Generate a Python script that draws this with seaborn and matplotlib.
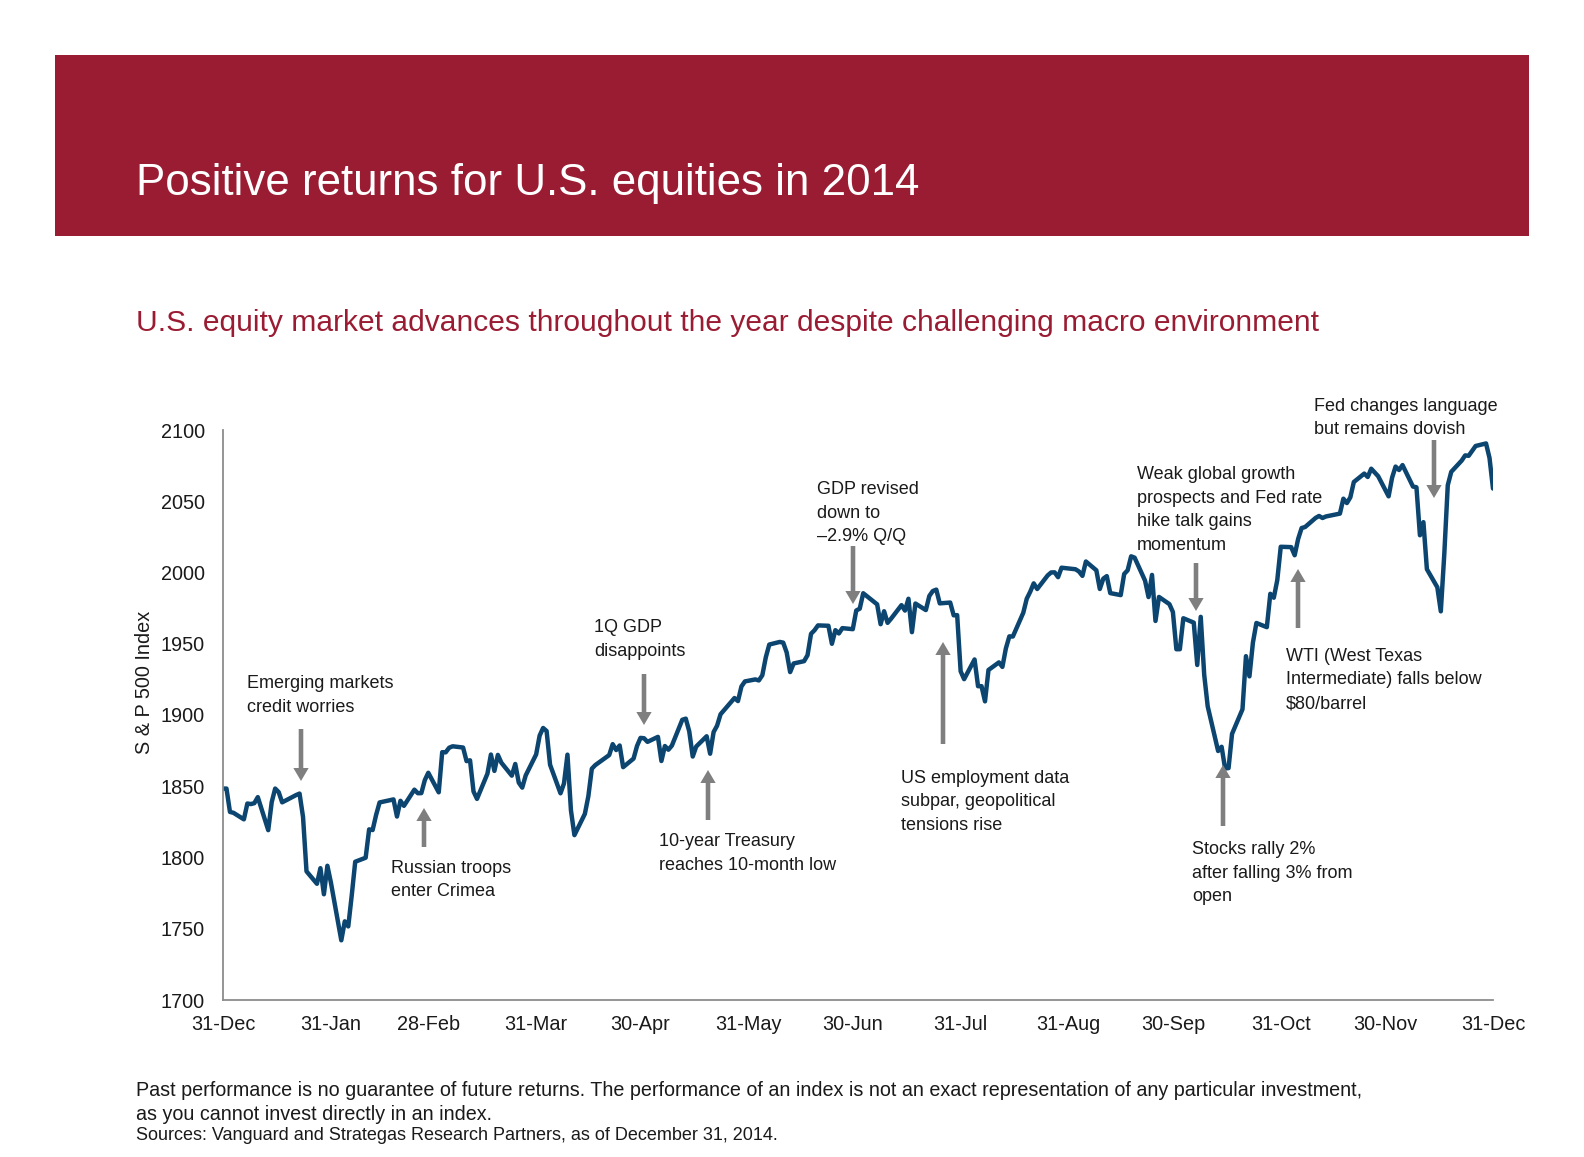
import matplotlib
matplotlib.use("Agg")
import matplotlib.pyplot as plt
from matplotlib.patches import Rectangle, FancyArrowPatch, ArrowStyle
import seaborn as sns
import pandas as pd

# ---------------- data: S&P 500 daily closes, 2014 ----------------
dec13_days = [31]
dec13_close = [1848.36]
jan_days = [1, 2, 3, 6, 7, 8, 9, 10, 13, 14, 15, 16, 17, 21, 22, 23, 24, 27, 28, 29, 30, 31]
jan_close = [1848.36, 1831.98, 1831.37, 1826.77, 1837.88, 1837.49, 1838.13, 1842.37, 1819.20, 1838.88, 1848.38,
             1845.89, 1838.70, 1843.80, 1844.86, 1828.46, 1790.29, 1781.56, 1792.50, 1774.20, 1794.19, 1782.59]
feb_days = [3, 4, 5, 6, 7, 10, 11, 12, 13, 14, 18, 19, 20, 21, 24, 25, 26, 27, 28]
feb_close = [1741.89, 1755.20, 1751.64, 1773.43, 1797.02, 1799.84, 1819.75, 1819.26, 1829.83, 1838.63,
             1840.76, 1828.75, 1839.78, 1836.25, 1847.61, 1845.12, 1845.16, 1854.29, 1859.45]
mar_days = [3, 4, 5, 6, 7, 10, 11, 12, 13, 14, 17, 18, 19, 20, 21, 24, 25, 26, 27, 28, 31]
mar_close = [1845.73, 1873.91, 1873.81, 1877.03, 1878.04, 1877.17, 1867.63, 1868.20, 1846.34, 1841.13,
             1858.83, 1872.25, 1860.77, 1872.01, 1866.52, 1857.44, 1865.62, 1852.56, 1849.04, 1857.62, 1872.34]
apr_days = [1, 2, 3, 4, 7, 8, 9, 10, 11, 14, 15, 16, 17, 21, 22, 23, 24, 25, 28, 29, 30]
apr_close = [1885.52, 1890.90, 1888.77, 1865.09, 1845.04, 1851.96, 1872.18, 1833.08, 1815.69, 1830.61,
             1842.98, 1862.31, 1864.85, 1871.89, 1879.55, 1875.39, 1878.61, 1863.40, 1869.43, 1878.33, 1883.95]
may_days = [1, 2, 5, 6, 7, 8, 9, 12, 13, 14, 15, 16, 19, 20, 21, 22, 23, 27, 28, 29, 30]
may_close = [1883.68, 1881.14, 1884.66, 1867.72, 1878.21, 1875.63, 1878.48, 1896.65, 1897.45, 1888.53,
             1870.85, 1877.86, 1885.08, 1872.83, 1888.03, 1892.49, 1900.53, 1911.91, 1909.78, 1920.03, 1923.57]
jun_days = [2, 3, 4, 5, 6, 9, 10, 11, 12, 13, 16, 17, 18, 19, 20, 23, 24, 25, 26, 27, 30]
jun_close = [1924.97, 1924.24, 1927.88, 1940.46, 1949.44, 1951.27, 1950.79, 1943.89, 1930.11, 1936.16,
             1937.78, 1941.99, 1956.98, 1959.48, 1962.87, 1962.61, 1949.98, 1959.53, 1957.22, 1960.96, 1960.23]
jul_days = [1, 2, 3, 7, 8, 9, 10, 11, 14, 15, 16, 17, 18, 21, 22, 23, 24, 25, 28, 29, 30, 31]
jul_close = [1973.32, 1974.62, 1985.44, 1977.65, 1963.71, 1972.83, 1964.68, 1967.57, 1977.10, 1973.28,
             1981.57, 1958.12, 1978.22, 1973.63, 1983.53, 1987.01, 1987.98, 1978.34, 1978.91, 1969.95,
             1970.07, 1930.67]
aug_days = [1, 4, 5, 6, 7, 8, 11, 12, 13, 14, 15, 18, 19, 20, 21, 22, 25, 26, 27, 28, 29]
aug_close = [1925.15, 1938.99, 1920.21, 1920.24, 1909.57, 1931.59, 1936.92, 1933.75, 1946.72, 1955.18,
             1955.06, 1971.74, 1981.60, 1986.51, 1992.37, 1988.40, 1997.92, 2000.02, 2000.12, 1996.74, 2003.37]
sep_days = [2, 3, 4, 5, 8, 9, 10, 11, 12, 15, 16, 17, 18, 19, 22, 23, 24, 25, 26, 29, 30]
sep_close = [2002.28, 2000.72, 1997.65, 2007.71, 2001.54, 1988.44, 1995.69, 1997.45, 1985.54, 1984.13,
             1998.98, 2001.57, 2011.36, 2010.40, 1994.29, 1982.77, 1998.30, 1965.99, 1982.85, 1977.80, 1972.29]
oct_days = [1, 2, 3, 6, 7, 8, 9, 10, 13, 14, 15, 16, 17, 20, 21, 22, 23, 24, 27, 28, 29, 30, 31]
oct_close = [1946.16, 1946.17, 1967.90, 1964.82, 1935.10, 1968.89, 1928.21, 1906.13, 1874.74, 1877.70,
             1862.49, 1862.76, 1886.76, 1904.01, 1941.28, 1927.11, 1950.82, 1964.58, 1961.63, 1985.05,
             1982.30, 1994.65, 2018.05]
nov_days = [3, 4, 5, 6, 7, 10, 11, 12, 13, 14, 17, 18, 19, 20, 21, 24, 25, 26, 28]
nov_close = [2017.81, 2012.10, 2023.57, 2031.21, 2031.92, 2038.26, 2039.68, 2038.25, 2039.33, 2039.82,
             2041.32, 2051.80, 2048.72, 2052.75, 2063.50, 2069.41, 2067.03, 2072.83, 2067.56]
dec_days = [1, 2, 3, 4, 5, 8, 9, 10, 11, 12, 15, 16, 17, 18, 19, 22, 23, 24, 26, 29, 30, 31]
dec_close = [2053.44, 2066.55, 2074.33, 2071.92, 2075.37, 2060.31, 2059.82, 2026.14, 2035.33, 2002.33,
             1989.63, 1972.74, 2012.89, 2061.23, 2070.65, 2078.54, 2082.17, 2081.88, 2088.77, 2090.57,
             2080.35, 2058.90]

tick_dates = ["2013-12-31", "2014-01-31", "2014-02-28", "2014-03-31", "2014-04-30", "2014-05-31",
              "2014-06-30", "2014-07-31", "2014-08-31", "2014-09-30", "2014-10-31", "2014-11-30", "2014-12-31"]
tick_labels = ["31-Dec", "31-Jan", "28-Feb", "31-Mar", "30-Apr", "31-May", "30-Jun",
               "31-Jul", "31-Aug", "30-Sep", "31-Oct", "30-Nov", "31-Dec"]
y_ticks = [1700, 1750, 1800, 1850, 1900, 1950, 2000, 2050, 2100]

title = "Positive returns for U.S. equities in 2014"
subtitle = "U.S. equity market advances throughout the year despite challenging macro environment"
y_label = "S & P 500 Index"
footer_note = ("Past performance is no guarantee of future returns. The performance of an index is not an exact "
               "representation of any particular investment,\nas you cannot invest directly in an index.")
footer_source = "Sources: Vanguard and Strategas Research Partners, as of December 31, 2014."

ann_texts = ["Emerging markets\ncredit worries",
             "Russian troops\nenter Crimea",
             "1Q GDP\ndisappoints",
             "10-year Treasury\nreaches 10-month low",
             "GDP revised\ndown to\n\u20132.9% Q/Q",
             "US employment data\nsubpar, geopolitical\ntensions rise",
             "Weak global growth\nprospects and Fed rate\nhike talk gains\nmomentum",
             "Stocks rally 2%\nafter falling 3% from\nopen",
             "WTI (West Texas\nIntermediate) falls below\n$80/barrel",
             "Fed changes language\nbut remains dovish"]

# ---------------- build table ----------------
months = [(2013, 12, dec13_days, dec13_close), (2014, 1, jan_days, jan_close), (2014, 2, feb_days, feb_close),
          (2014, 3, mar_days, mar_close), (2014, 4, apr_days, apr_close), (2014, 5, may_days, may_close),
          (2014, 6, jun_days, jun_close), (2014, 7, jul_days, jul_close), (2014, 8, aug_days, aug_close),
          (2014, 9, sep_days, sep_close), (2014, 10, oct_days, oct_close), (2014, 11, nov_days, nov_close),
          (2014, 12, dec_days, dec_close)]
rows = []
for yr, mo, days, closes in months:
    for d, c in zip(days, closes):
        rows.append((pd.Timestamp(year=yr, month=mo, day=d), c))
df = pd.DataFrame(rows, columns=["date", "close"])

# ---------------- style ----------------
sns.set_theme(style="white")
plt.rcParams["font.family"] = ["Liberation Sans", "DejaVu Sans"]

W, H = 1584, 1157
fig = plt.figure(figsize=(W / 100, H / 100), dpi=100)
fig.patch.set_facecolor("white")

def fx(px):
    return px / W

def fy(py):
    return 1 - py / H

RED = "#9A1C33"
LINE = "#0B4570"
GREY = "#7F7F7F"
TXT = "#1a1a1a"

# banner
fig.add_artist(Rectangle((fx(55), fy(236)), (1529 - 55) / W, (236 - 55) / H,
                         transform=fig.transFigure, facecolor=RED, edgecolor="none", zorder=0))
fig.text(fx(136), fy(195), title, color="white", fontsize=31.6, va="baseline", ha="left")
fig.text(fx(136), fy(331), subtitle, color=RED, fontsize=21.6, va="baseline", ha="left")

# axes
ax = fig.add_axes([fx(223), fy(1000), (1493 - 223) / W, (1000 - 430) / H])
sns.lineplot(data=df, x="date", y="close", ax=ax, color=LINE, linewidth=3.2, legend=False)
ax.set_xlim(pd.Timestamp("2013-12-31"), pd.Timestamp("2014-12-31"))
ax.set_ylim(1700, 2100)
ax.set_yticks(y_ticks)
ax.set_yticklabels([str(v) for v in y_ticks])
ax.set_xticks([pd.Timestamp(d) for d in tick_dates])
ax.set_xticklabels(tick_labels)
ax.set_xlabel("")
ax.set_ylabel("")
ax.tick_params(axis="both", length=0, labelsize=14.3, colors=TXT)
ax.tick_params(axis="x", pad=11)
ax.tick_params(axis="y", pad=13)
for s in ["top", "right"]:
    ax.spines[s].set_visible(False)
for s in ["left", "bottom"]:
    ax.spines[s].set_color("#8c8c8c")
    ax.spines[s].set_linewidth(1.3)
ax.grid(False)
ax.set_facecolor("none")

fig.text(fx(145), fy(682), y_label, rotation=90, va="center", ha="center", fontsize=14.3, color=TXT)

# annotations: (text left px, first line center px, arrow x px, arrow tail px, arrow head px)
ann_pos = [(247, 684, 301, 729, 781),
           (391, 869, 424, 847, 808),
           (594, 628, 644, 674, 725),
           (659, 842, 708, 820, 770),
           (817, 490, 853, 546, 604),
           (901, 779, 943, 744, 642),
           (1137, 475, 1196, 563, 611),
           (1192, 850, 1223, 826, 765),
           (1286, 657, 1298, 628, 569),
           (1314, 407, 1434, 440, 498)]
astyle = ArrowStyle.Simple(head_length=0.85, head_width=1.0, tail_width=0.3)
for txt, (tx, ty, axp, tail, head) in zip(ann_texts, ann_pos):
    fig.text(fx(tx), fy(ty - 9), txt, fontsize=12.95, color=TXT, va="top", ha="left", linespacing=1.5)
    fig.add_artist(FancyArrowPatch((fx(axp), fy(tail)), (fx(axp), fy(head)), transform=fig.transFigure,
                                   arrowstyle=astyle, mutation_scale=11, color=GREY, lw=0,
                                   shrinkA=0, shrinkB=0))

# footer
fig.text(fx(136), fy(1081), footer_note, fontsize=14.2, color=TXT, va="top", ha="left", linespacing=1.35)
fig.text(fx(136), fy(1135), footer_source, fontsize=13.0, color=TXT, va="center", ha="left")

fig.savefig("out.png", dpi=100, facecolor="white")
